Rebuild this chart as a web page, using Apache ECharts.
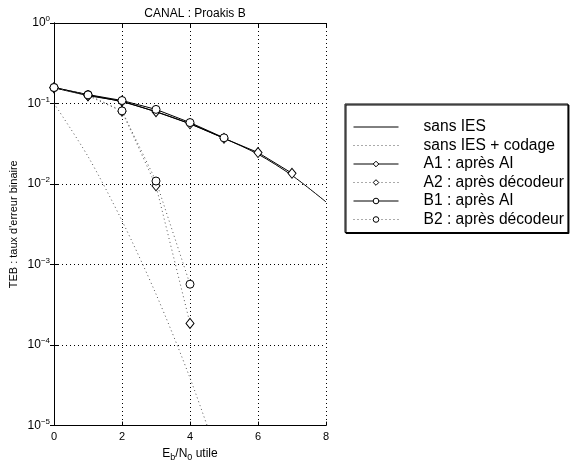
<!DOCTYPE html>
<html>
<head>
<meta charset="utf-8">
<script src="https://cdn.jsdelivr.net/npm/echarts@6/dist/echarts.min.js"></script>
<style>
  html, body { margin: 0; padding: 0; background: #fff; }
  #main { width: 584px; height: 467px; }
</style>
</head>
<body>
<div id="main"></div>
<script>
// Eb/N0 (dB)
var ebn0 = [0, 1, 2, 3, 4, 5, 6, 7, 8];
// TEB des différentes courbes
var sansIES = [0.158, 0.128, 0.105, 0.079, 0.056, 0.037, 0.0235, 0.0128, 0.006];
var sansIESCodage = [0.1, 0.022, 0.0035, 0.00043, 0.000039, 0.0000025];
var a1 = [0.157, 0.125, 0.107, 0.079, 0.056, 0.037, 0.0246, 0.0136];
var a2 = [0.157, 0.125, 0.08, 0.0095, 0.000186];
var b1 = [0.158, 0.129, 0.109, 0.0845, 0.058, 0.0375];
var b2 = [0.158, 0.128, 0.081, 0.0109, 0.00057];

function pts(vals) {
  return vals.map(function (v, i) { return [ebn0[i], v]; });
}

var font = 'Liberation Sans, Arial, sans-serif';
var chart = echarts.init(document.getElementById('main'));

var markStyle = { color: '#fff', borderColor: '#000', borderWidth: 1 };
var noMark = { opacity: 0 };

chart.setOption({
  animation: false,
  textStyle: { fontFamily: font, color: '#000' },
  title: {
    text: 'CANAL : Proakis B',
    left: 190, top: 3, textAlign: 'center',
    textStyle: { fontSize: 12, fontWeight: 'normal', color: '#000', fontFamily: font }
  },
  grid: { left: 54, right: 258, top: 23, bottom: 34 },
  legend: {
    orient: 'vertical',
    left: 345, top: 104,
    padding: [15, 4, 5, 8],
    itemWidth: 45, itemHeight: 7, itemGap: 2.5,
    backgroundColor: '#fff',
    borderColor: '#000', borderWidth: 1,
    shadowColor: '#000', shadowOffsetX: 1, shadowOffsetY: 1, shadowBlur: 0,
    lineStyle: { width: 1 },
    itemStyle: { borderWidth: 1 },
    textStyle: { fontSize: 15.6, lineHeight: 14, color: '#000', fontFamily: font, padding: [0, 0, 0, 20] },
    data: [
      { name: 'sans IES', itemStyle: noMark },
      { name: 'sans IES + codage', itemStyle: noMark },
      'A1 : après AI', 'A2 : après décodeur', 'B1 : après AI', 'B2 : après décodeur'
    ]
  },
  xAxis: [{
    type: 'value', min: 0, max: 8, interval: 2,
    name: '{n|E}{s|b}{n|/N}{s|0}{n| utile}',
    nameLocation: 'middle', nameGap: 19,
    nameTextStyle: { rich: { n: { fontSize: 12, fontFamily: font }, s: { fontSize: 9, fontFamily: font, padding: [8, 0, 0, 0] } } },
    axisLine: { lineStyle: { color: '#000', width: 1 } },
    axisTick: { inside: true, length: 4, lineStyle: { color: '#000' } },
    axisLabel: { fontSize: 11, color: '#000', margin: 6, fontFamily: font },
    splitLine: { show: true, lineStyle: { color: '#000', type: [1, 3], width: 1 } }
  }, {
    type: 'value', min: 0, max: 8, interval: 2, position: 'top',
    axisLine: { lineStyle: { color: '#000' } },
    axisTick: { inside: true, length: 4, lineStyle: { color: '#000' } },
    axisLabel: { show: false }, splitLine: { show: false }
  }],
  yAxis: [{
    type: 'log', logBase: 10, min: 1e-5, max: 1,
    name: "TEB : taux d'erreur binaire",
    nameLocation: 'middle', nameGap: 35,
    nameTextStyle: { fontSize: 11, color: '#000', fontFamily: font },
    axisLine: { show: true, lineStyle: { color: '#000', width: 1 } },
    axisTick: { inside: true, length: 4, lineStyle: { color: '#000' } },
    minorTick: { show: false },
    axisLabel: {
      fontSize: 11, color: '#000', margin: 4, fontFamily: font,
      formatter: function (v) {
        var e = Math.round(Math.log10(v));
        return '{b|10}{e|' + (e < 0 ? '\u2212' + (-e) : e) + '}';
      },
      rich: {
        b: { fontSize: 12, fontFamily: font },
        e: { fontSize: 8, fontFamily: font, padding: [0, 0, 8, 0] }
      }
    },
    splitLine: { show: true, lineStyle: { color: '#000', type: [1, 3], width: 1 } }
  }, {
    type: 'log', logBase: 10, min: 1e-5, max: 1, position: 'right',
    axisLine: { show: true, lineStyle: { color: '#000' } },
    axisTick: { inside: true, length: 4, lineStyle: { color: '#000' } },
    axisLabel: { show: false }, splitLine: { show: false }
  }],
  series: [{
    name: 'sans IES', type: 'line', data: pts(sansIES), smooth: 0.3,
    symbol: 'none',
    lineStyle: { color: '#000', width: 1 }, itemStyle: { color: '#000' }
  }, {
    name: 'sans IES + codage', type: 'line', data: pts(sansIESCodage), smooth: 0.3,
    symbol: 'none',
    lineStyle: { color: '#555', width: 1, type: [1, 3] }, itemStyle: { color: '#555' }
  }, {
    name: 'A1 : après AI', type: 'line', data: pts(a1),
    symbol: 'diamond', symbolSize: [8, 10],
    lineStyle: { color: '#000', width: 1 }, itemStyle: markStyle
  }, {
    name: 'A2 : après décodeur', type: 'line', data: pts(a2),
    symbol: 'diamond', symbolSize: [8, 10],
    lineStyle: { color: '#555', width: 1, type: [1, 3] }, itemStyle: markStyle
  }, {
    name: 'B1 : après AI', type: 'line', data: pts(b1),
    symbol: 'circle', symbolSize: 8,
    lineStyle: { color: '#000', width: 1 }, itemStyle: markStyle
  }, {
    name: 'B2 : après décodeur', type: 'line', data: pts(b2),
    symbol: 'circle', symbolSize: 8,
    lineStyle: { color: '#555', width: 1, type: [1, 3] }, itemStyle: markStyle
  }]
});
</script>
</body>
</html>
